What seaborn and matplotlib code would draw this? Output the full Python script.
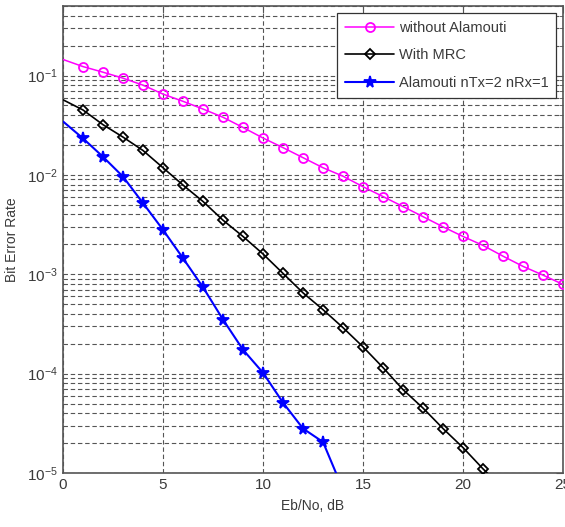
import numpy as np
import pandas as pd
import matplotlib
matplotlib.use("Agg")
import matplotlib.pyplot as plt
import seaborn as sns
from matplotlib.ticker import LogLocator, NullFormatter

# ---- data ----
ebno_db = list(range(0, 26))

ber_without_alamouti = [0.145, 0.123, 0.108, 0.094, 0.080, 0.065, 0.055, 0.046, 0.038,
                        0.030, 0.0235, 0.0188, 0.0149, 0.0118, 0.0097, 0.0076, 0.00605,
                        0.0048, 0.0038, 0.0030, 0.0024, 0.00195, 0.00152, 0.0012,
                        0.00098, 0.00079]

ber_with_mrc = [0.057, 0.045, 0.032, 0.024, 0.0176, 0.0118, 0.0079, 0.0054, 0.0035,
                0.0024, 0.0016, 0.00102, 6.5e-4, 4.4e-4, 2.9e-4, 1.86e-4, 1.15e-4,
                6.9e-5, 4.5e-5, 2.8e-5, 1.8e-5, 1.1e-5, 7.0e-6]

ber_alamouti = [0.0345, 0.0233, 0.0152, 0.0096, 0.0052, 0.0028, 0.00145, 7.4e-4,
                3.5e-4, 1.74e-4, 1.02e-4, 5.1e-5, 2.8e-5, 2.05e-5, 6.8e-6]

labels = ["without Alamouti", "With MRC", "Alamouti nTx=2 nRx=1"]
x_ticks = [0, 5, 10, 15, 20, 25]

# ---- style ----
sns.set_style("white")
plt.rcParams["font.family"] = ["Liberation Sans", "DejaVu Sans"]
plt.rcParams["mathtext.fontset"] = "custom"
plt.rcParams["mathtext.rm"] = "Liberation Sans"
plt.rcParams["mathtext.it"] = "Liberation Sans:italic"
plt.rcParams["mathtext.bf"] = "Liberation Sans:bold"

txt = "#3a3a3a"
fig = plt.figure(figsize=(5.65, 5.27), dpi=100)
ax = fig.add_axes([0.1115, 0.1025, 0.885, 0.886])

series = [
    (ber_without_alamouti, "#FF00FF", "o", 1.1, 6.5),
    (ber_with_mrc, "black", "D", 1.2, 5.0),
    (ber_alamouti, "#0000FF", "*", 1.5, 8.5),
]
for (vals, col, mk, lw, ms), lab in zip(series, labels):
    df = pd.DataFrame({"x": ebno_db[:len(vals)], "y": vals})
    sns.lineplot(data=df, x="x", y="y", ax=ax, color=col, marker=mk,
                 markersize=ms, markerfacecolor="none" if mk != "*" else col,
                 markeredgecolor=col, markeredgewidth=1.3, linewidth=lw,
                 markevery=slice(1, None), label=lab, zorder=3)

ax.set_yscale("log")
ax.set_xlim(0, 25)
ax.set_ylim(1e-5, 0.5)
ax.set_xticks(x_ticks)
ax.yaxis.set_major_locator(LogLocator(base=10, numticks=10))
ax.yaxis.set_minor_locator(LogLocator(base=10, subs=np.arange(2, 10), numticks=20))
ax.yaxis.set_minor_formatter(NullFormatter())

gstyle = dict(color="#555555", linestyle=(0, (4, 2.5)), linewidth=0.8)
ax.grid(True, which="major", axis="both", **gstyle)
ax.grid(True, which="minor", axis="y", **gstyle)
ax.set_axisbelow(True)

for s in ax.spines.values():
    s.set_color("#555555")
    s.set_linewidth(1.2)
ax.tick_params(which="both", direction="in", top=True, right=True,
               colors="#555555", labelcolor=txt, labelsize=11)
ax.tick_params(which="major", length=5)
ax.tick_params(which="minor", length=3)

ax.set_xlabel("Eb/No, dB", fontsize=10, color=txt, labelpad=5)
ax.set_ylabel("Bit Error Rate", fontsize=10, color=txt, labelpad=6)

leg = ax.legend(loc="upper right", fontsize=10.5, frameon=True, fancybox=False,
                framealpha=1, edgecolor="#333333", handlelength=3.4,
                borderaxespad=0.5, labelspacing=0.95, handletextpad=0.3,
                borderpad=0.5)
leg.get_frame().set_linewidth(0.9)
for t in leg.get_texts():
    t.set_color(txt)

fig.savefig("out.png", dpi=100)
